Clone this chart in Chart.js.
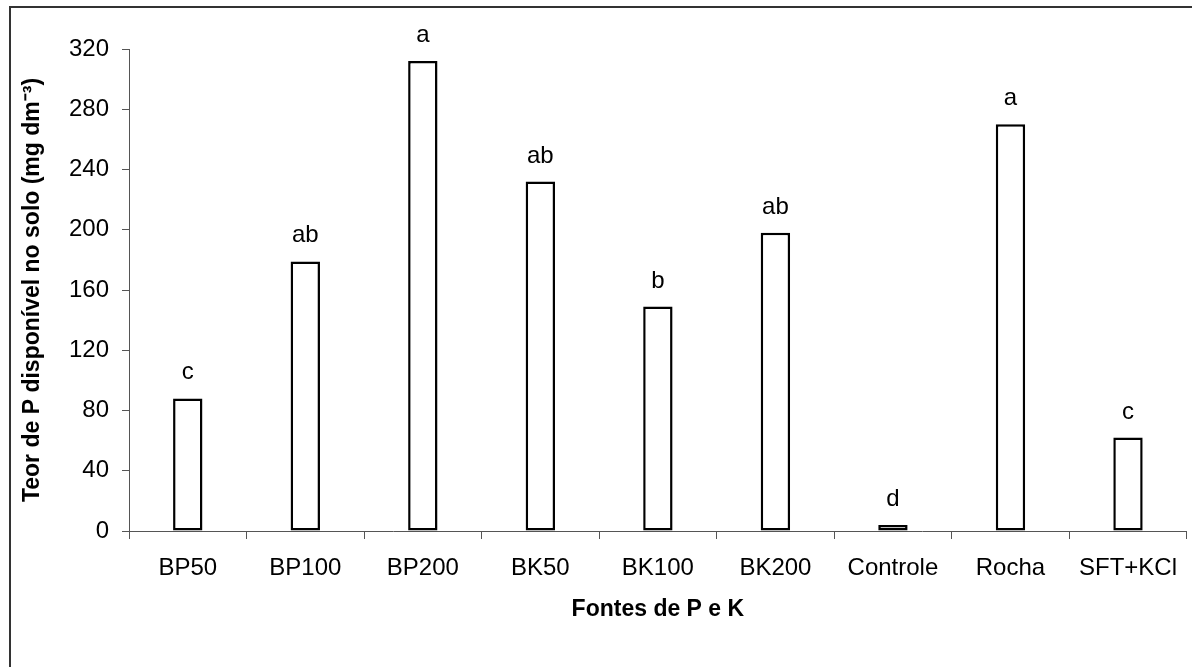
<!DOCTYPE html>
<html>
<head>
<meta charset="utf-8">
<title>Teor de P disponível no solo</title>
<script src="https://cdn.jsdelivr.net/npm/chart.js@4.4.0/dist/chart.umd.min.js"></script>
<style>
    html, body { margin: 0; padding: 0; background: #fff; overflow: hidden; }
    #wrap { position: relative; width: 1192px; height: 667px; }
</style>
</head>
<body>
<div id="wrap"><canvas id="plot"></canvas></div>
<script>
// valores
const fontes = ['BP50', 'BP100', 'BP200', 'BK50', 'BK100', 'BK200', 'Controle', 'Rocha', 'SFT+KCl']
const teorP = [88, 179, 312, 232, 149, 198, 4, 270, 62]
const letras = ['c', 'ab', 'a', 'ab', 'b', 'ab', 'd', 'a', 'c']
const yTicks = [0, 40, 80, 120, 160, 200, 240, 280, 320]

const FONT = '"Liberation Sans", Arial, sans-serif'

// letras do teste de media e moldura
const extras = {
    id: 'extras',
    afterDatasetsDraw(chart) {
        const ctx = chart.ctx
        const meta = chart.getDatasetMeta(0)
        ctx.save()
        ctx.fillStyle = '#000'
        ctx.font = '24px ' + FONT
        ctx.textAlign = 'center'
        ctx.textBaseline = 'alphabetic'
        meta.data.forEach((bar, i) => {
            ctx.fillText(letras[i], bar.x, bar.y - 19)
        })
        // moldura (lado direito e inferior ficam fora da imagem)
        ctx.strokeStyle = '#333'
        ctx.lineWidth = 2
        ctx.beginPath()
        ctx.moveTo(10, 700)
        ctx.lineTo(10, 7)
        ctx.lineTo(1200, 7)
        ctx.stroke()
        ctx.restore()
    }
}

const data = {
    labels: fontes,
    datasets: [{
        data: teorP,
        backgroundColor: '#fff',
        borderColor: '#000',
        borderWidth: 2.5,
        borderSkipped: false,
        barPercentage: 0.25,
        categoryPercentage: 1
    }]
}

const config = {
    type: 'bar',
    data: data,
    options: {
        responsive: true,
        maintainAspectRatio: false,
        animation: false,
        layout: {
            padding: { top: 49, right: 0, bottom: 0, left: 0 }
        },
        plugins: {
            legend: { display: false },
            tooltip: { enabled: false }
        },
        scales: {
            x: {
                grid: {
                    display: true,
                    drawOnChartArea: false,
                    drawTicks: true,
                    tickLength: 8,
                    color: '#555'
                },
                border: { color: '#555', width: 1 },
                ticks: {
                    color: '#000',
                    font: { family: FONT, size: 24 },
                    padding: 15,
                    maxRotation: 0,
                    autoSkip: false
                },
                title: {
                    display: true,
                    text: 'Fontes de P e K',
                    color: '#000',
                    font: { family: FONT, size: 23, weight: 'bold' },
                    padding: { top: 0, bottom: 44 }
                },
                afterFit(scale) { scale.height = 136 }
            },
            y: {
                min: 0,
                max: 320,
                afterBuildTicks(scale) {
                    scale.ticks = yTicks.map(v => ({ value: v }))
                },
                grid: {
                    display: true,
                    drawOnChartArea: false,
                    drawTicks: true,
                    tickLength: 7,
                    color: '#555'
                },
                border: { color: '#555', width: 1 },
                ticks: {
                    color: '#000',
                    font: { family: FONT, size: 24 },
                    padding: 13
                },
                title: {
                    display: true,
                    text: 'Teor de P disponível no solo (mg dm⁻³)',
                    color: '#000',
                    font: { family: FONT, size: 23, weight: 'bold' },
                    padding: { top: 19, bottom: 0 }
                },
                afterFit(scale) { scale.width = 129 }
            }
        }
    },
    plugins: [extras]
}

myChart = new Chart(
    document.getElementById('plot'),
    config
)
</script>
</body>
</html>
